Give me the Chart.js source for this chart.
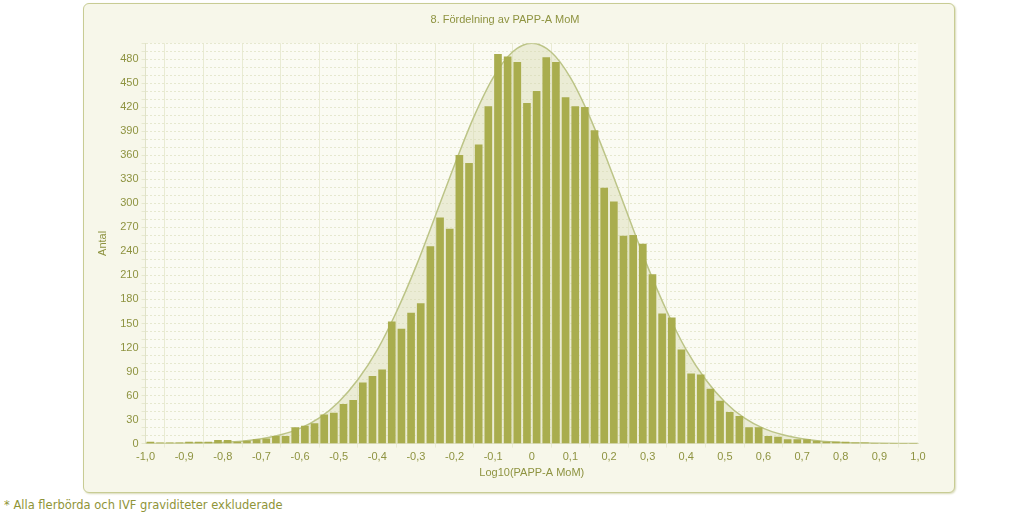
<!DOCTYPE html>
<html><head><meta charset="utf-8">
<script src="https://cdn.jsdelivr.net/npm/chart.js@4"></script>
<style>
body{margin:0;background:#fff;font-family:"DejaVu Sans",sans-serif;}
#card{position:absolute;left:83px;top:3px;width:870px;height:488px;border:1px solid #c8cc94;border-radius:6px;background:#f7f7ea;box-shadow:1px 1px 2px #d8dab8;}
#foot{position:absolute;left:4px;top:498px;font-size:11.5px;color:#8f9438;font-family:Verdana,"DejaVu Sans",sans-serif;}
</style></head><body>
<div id="card"><canvas id="c" width="870" height="488"></canvas></div>
<div id="foot">* Alla flerbörda och IVF graviditeter exkluderade</div>
<script>
const binCenters = [-0.9875,-0.9625,-0.9375,-0.9125,-0.8875,-0.8625,-0.8375,-0.8125,-0.7875,-0.7625,-0.7375,-0.7125,-0.6875,-0.6625,-0.6375,-0.6125,-0.5875,-0.5625,-0.5375,-0.5125,-0.4875,-0.4625,-0.4375,-0.4125,-0.3875,-0.3625,-0.3375,-0.3125,-0.2875,-0.2625,-0.2375,-0.2125,-0.1875,-0.1625,-0.1375,-0.1125,-0.0875,-0.0625,-0.0375,-0.0125,0.0125,0.0375,0.0625,0.0875,0.1125,0.1375,0.1625,0.1875,0.2125,0.2375,0.2625,0.2875,0.3125,0.3375,0.3625,0.3875,0.4125,0.4375,0.4625,0.4875,0.5125,0.5375,0.5625,0.5875,0.6125,0.6375,0.6625,0.6875,0.7125,0.7375,0.7625,0.7875,0.8125,0.8375,0.8625,0.8875,0.9125,0.9375,0.9625,0.9875];
const counts = [2,1,1,1,2,2,2,4,4,2,3,5,6,9,9,20,22,25,36,38,49,54,76,84,92,152,143,163,175,246,282,268,360,350,373,421,486,483,476,425,440,482,476,432,421,420,391,319,302,259,260,249,211,162,157,117,87,86,68,53,39,34,20,20,9,8,5,5,5,3,2,2,2,1,1,0,0,0,0,0];
const curveX = [-1.0,-0.95,-0.9,-0.85,-0.8,-0.75,-0.7,-0.65,-0.6,-0.55,-0.5,-0.45,-0.4,-0.35,-0.3,-0.25,-0.2,-0.15,-0.1,-0.05,0,0.05,0.1,0.15,0.2,0.25,0.3,0.35,0.4,0.45,0.5,0.55,0.6,0.65,0.7,0.75,0.8,0.85,0.9,0.95,1.0];
const curveY = [0,0.1,0.3,0.7,1.5,3,6,11,19,32,52,80,117,165,221,284,348,408,457,489,500,489,457,408,348,284,221,165,117,80,52,32,19,11,6,3,1.5,0.7,0.3,0.1,0];
const xTickLabels = {"-1":"-1,0","-0.9":"-0,9","-0.8":"-0,8","-0.7":"-0,7","-0.6":"-0,6","-0.5":"-0,5","-0.4":"-0,4","-0.3":"-0,3","-0.2":"-0,2","-0.1":"-0,1","0":"0","0.1":"0,1","0.2":"0,2","0.3":"0,3","0.4":"0,4","0.5":"0,5","0.6":"0,6","0.7":"0,7","0.8":"0,8","0.9":"0,9","1":"1,0"};
const txt='#8e9340';
const plotBg={id:'bg',beforeDraw(ch){const a=ch.chartArea,c=ch.ctx;c.save();c.fillStyle='#fbfbf3';c.fillRect(a.left,a.top,a.right-a.left,a.bottom-a.top);c.restore();}};
new Chart(document.getElementById('c'),{
 type:'bar',
 data:{datasets:[
  {type:'bar',data:binCenters.map((x,i)=>({x:x,y:counts[i]})),backgroundColor:'#a9ad4e',barThickness:7,order:1},
  {type:'line',data:curveX.map((x,i)=>({x:x,y:curveY[i]})),borderColor:'#bcc487',borderWidth:1.5,backgroundColor:'rgba(214,218,178,0.45)',fill:'origin',pointRadius:0,tension:0.4,cubicInterpolationMode:'monotone',order:2}
 ]},
 options:{responsive:false,animation:false,
  layout:{padding:{left:8,right:36,top:0,bottom:8}},
  plugins:{legend:{display:false},tooltip:{enabled:false},
   title:{display:true,text:'8. Fördelning av PAPP-A MoM',color:txt,font:{size:11,family:'Arial, Liberation Sans',weight:'normal'},padding:{top:9,bottom:17}}},
  scales:{
   x:{type:'linear',min:-1,max:1,offset:false,
    ticks:{stepSize:0.1,color:txt,font:{size:11,family:'Liberation Sans'},maxRotation:0,callback:v=>xTickLabels[String(Math.round(v*10)/10)]??''},
    grid:{color:'#e9ebd3',drawTicks:true,tickLength:4},border:{color:'#e0e2c8'},
    title:{display:true,text:'Log10(PAPP-A MoM)',color:txt,font:{size:11,family:'Liberation Sans'},padding:{top:0}}},
   y:{min:0,max:500,
    ticks:{stepSize:10,autoSkip:false,color:txt,font:{size:11,family:'Liberation Sans'},callback:v=>v%30===0?v:''},
    grid:{color:'#e6e8cf',lineWidth:1,tickLength:4},border:{color:'#e0e2c8',dash:[2,2]},
    title:{display:true,text:'Antal',color:txt,font:{size:11,family:'Liberation Sans'},padding:{bottom:8}}}
  }},
 plugins:[plotBg]
});
</script></body></html>
